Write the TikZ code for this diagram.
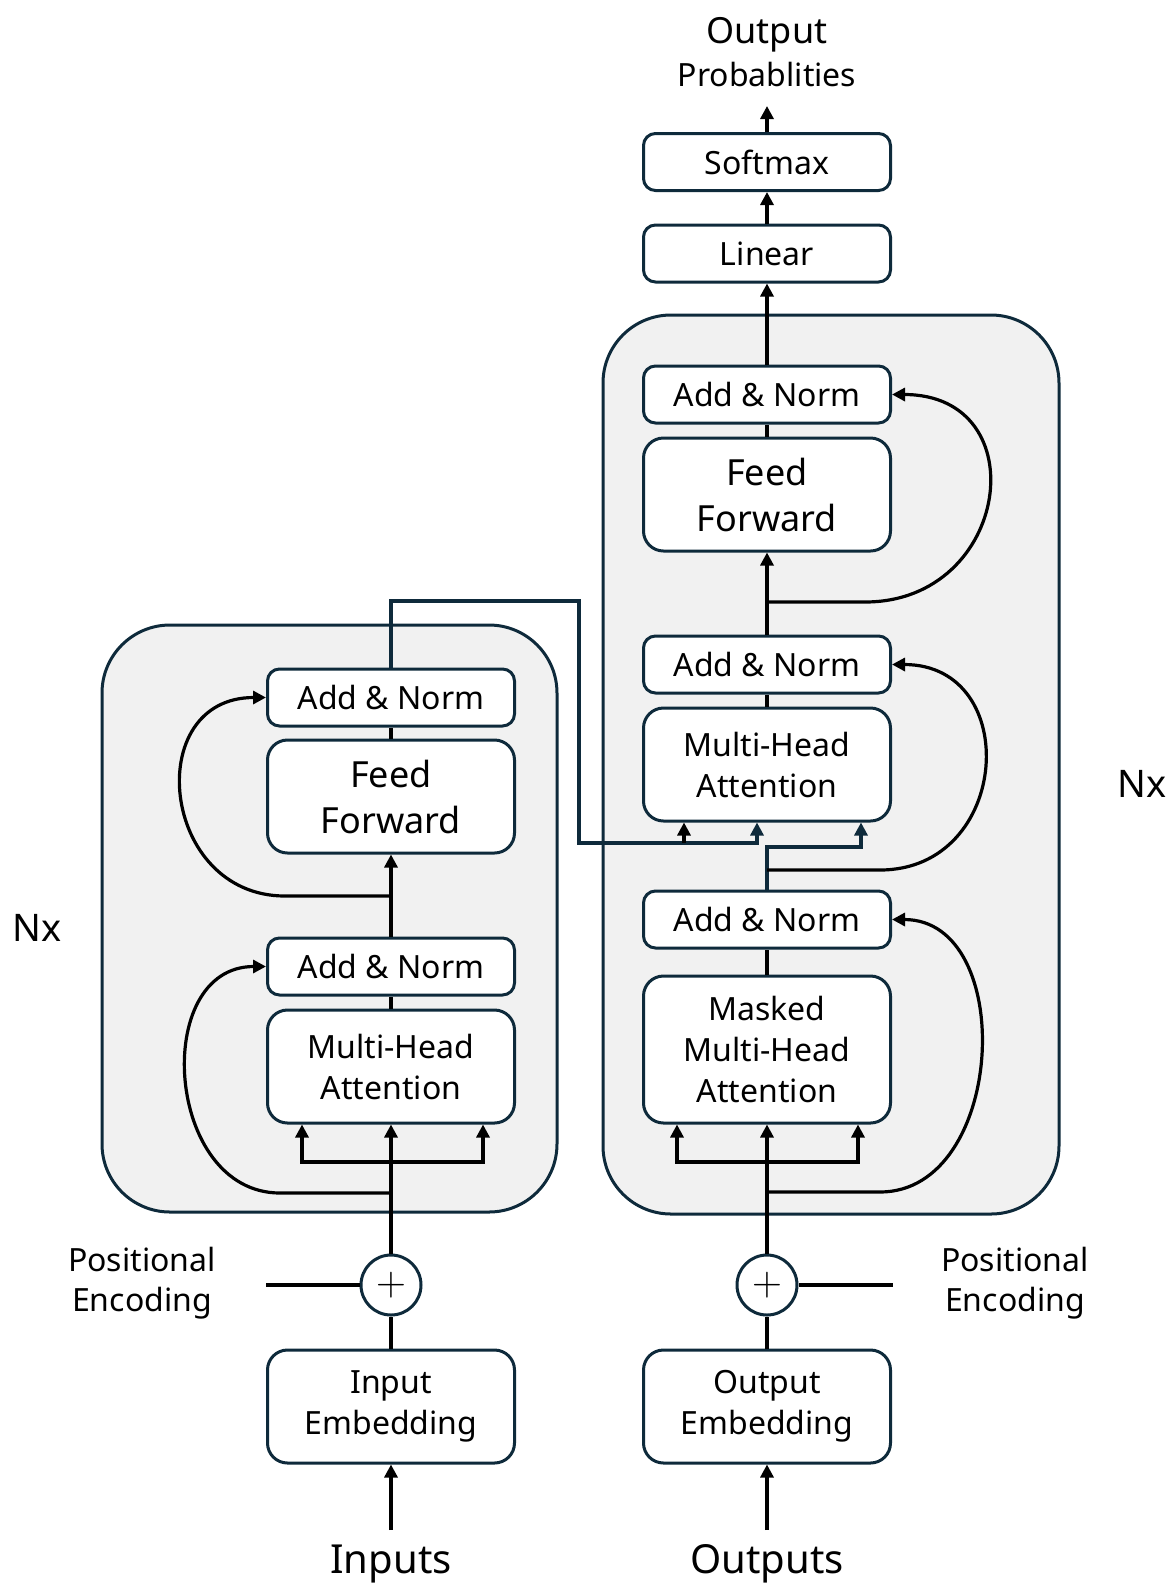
\documentclass[tikz,border=0pt]{standalone}
\usepackage{fontspec}
\setmainfont{Noto Sans}
\usetikzlibrary{arrows.meta,calc}
\definecolor{navy}{HTML}{0E2A3B}
\definecolor{blockgray}{HTML}{F1F1F1}

\begin{document}
\begin{tikzpicture}[x=0.5pt,y=-0.5pt,
  box/.style={draw=navy, line width=1.5pt, fill=white, rounded corners=6pt,
    minimum width=123.5pt, minimum height=28.5pt, inner sep=0pt, align=center,
    font=\fontsize{16}{20.5}\selectfont},
  bigbox/.style={box, rounded corners=10pt, minimum height=56.5pt},
  block/.style={draw=navy, line width=1.5pt, fill=blockgray, rounded corners=34pt},
  sum/.style={circle, draw=navy, line width=1.5pt, fill=white, minimum size=30pt, inner sep=0pt},
  arr/.style={line width=1.6pt, -{Triangle[length=6.5pt,width=6.5pt]}},
  link/.style={line width=1.6pt},
  lbl/.style={font=\fontsize{16}{20}\selectfont, align=center, inner sep=0pt},
  big/.style={font=\fontsize{20}{20}\selectfont, inner sep=0pt},
]
\useasboundingbox (0,0) rectangle (1172,1587);

% the two stacks
\draw[block] (102,625) rectangle (557,1212);
\draw[block] (603,315) rectangle (1059,1214);

% encoder
\node[bigbox] (inEmb) at (391,1406.5) {Input\\Embedding};
\node[sum] (encSum) at (391,1285) {\fontsize{22}{22}\selectfont$+$};
\node[bigbox] (encAttn) at (391,1066.5) {Multi-Head\\Attention};
\node[box] (encNorm1) at (391,966.5) {Add \& Norm};
\node[bigbox, font=\fontsize{18}{23}\selectfont] (encFF) at (391,796.5) {Feed\\Forward};
\node[box] (encNorm2) at (391,697.5) {Add \& Norm};

% decoder
\node[bigbox] (outEmb) at (767,1406.5) {Output\\Embedding};
\node[sum] (decSum) at (767,1285) {\fontsize{22}{22}\selectfont$+$};
\node[box, rounded corners=10pt, minimum height=73.5pt] (decMask) at (767,1049.5) {Masked\\Multi-Head\\Attention};
\node[box] (decNorm1) at (767,919.5) {Add \& Norm};
\node[bigbox] (decAttn) at (767,764.5) {Multi-Head\\Attention};
\node[box] (decNorm2) at (767,664.5) {Add \& Norm};
\node[bigbox, font=\fontsize{18}{23}\selectfont] (decFF) at (767,494.5) {Feed\\Forward};
\node[box] (decNorm3) at (767,394.5) {Add \& Norm};
\node[box] (linear) at (767,253.5) {Linear};
\node[box] (softmax) at (767,162) {Softmax};

% labels
\node[font=\fontsize{18}{18}\selectfont, inner sep=0pt, anchor=base] (outTitle) at (767,43) {Output};
\node[lbl, anchor=base] (outProb) at (767,86) {Probablities};
\node[big, anchor=base] (inputs) at (391,1573) {Inputs};
\node[big, anchor=base] (outputs) at (767,1573) {Outputs};
\node[font=\fontsize{19}{19}\selectfont] (encN) at (37,928) {Nx};
\node[font=\fontsize{19}{19}\selectfont] (decN) at (1142,784) {Nx};
\node[lbl] (encPE) at (142,1283) {Positional\\Encoding};
\node[lbl] (decPE) at (1015,1283) {Positional\\Encoding};

\coordinate (inSrc) at (391,1530);
\coordinate (outSrc) at (767,1530);
\coordinate (encPEend) at (266,1285);
\coordinate (decPEend) at (893,1285);
\coordinate (encSplit) at (391,1162);
\coordinate (encRes1) at (391,1193);
\coordinate (encRes2) at (391,896);
\coordinate (encTop) at (391,601);
\coordinate (crossDn) at (579,843);
\coordinate (decSplit) at (767,1162);
\coordinate (decRes1) at (767,1192);
\coordinate (decUp) at (767,847);
\coordinate (decRes2) at (767,870);
\coordinate (decRes3) at (767,602);
\coordinate (probTip) at (767,106);

% encoder links
\draw[arr] (inSrc) -- (inEmb.south);
\draw[link] (inEmb.north) -- (encSum.south);
\draw[link] (encPEend) -- (encSum.west);
\draw[arr] (encSum.north) -- (encAttn.south);
\draw[arr] (encSplit) -| ($(encAttn.south)+(-89,0)$);
\draw[arr] (encSplit) -| ($(encAttn.south)+(92,0)$);
\draw[arr] (encRes1) -- ++(-111,0) to[out=180,in=180,looseness=1.3] (encNorm1.west);
\draw[link] (encAttn.north) -- (encNorm1.south);
\draw[arr] (encNorm1.north) -- (encFF.south);
\draw[arr] (encRes2) -- ++(-106,0) to[out=180,in=180,looseness=1.6] (encNorm2.west);
\draw[link] (encFF.north) -- (encNorm2.south);

% encoder output into the decoder
\draw[arr, navy] (encNorm2.north) -- (encTop) -| (crossDn) -| ($(decAttn.south)+(-10,0)$);
\draw[arr] ($(crossDn)+(105,0)$) -- ($(decAttn.south)+(-83,0)$);

% decoder links
\draw[arr] (outSrc) -- (outEmb.south);
\draw[link] (outEmb.north) -- (decSum.south);
\draw[link] (decSum.east) -- (decPEend);
\draw[arr] (decSum.north) -- (decMask.south);
\draw[arr] (decSplit) -| ($(decMask.south)+(-90,0)$);
\draw[arr] (decSplit) -| ($(decMask.south)+(91,0)$);
\draw[arr] (decRes1) -- ++(113,0) to[out=0,in=0,looseness=1.18] (decNorm1.east);
\draw[link] (decMask.north) -- (decNorm1.south);
\draw[arr, navy] (decNorm1.north) -- (decUp) -| ($(decAttn.south)+(94,0)$);
\draw[arr] (decRes2) -- ++(113,0) to[out=0,in=0,looseness=1.63] (decNorm2.east);
\draw[link] (decAttn.north) -- (decNorm2.south);
\draw[arr] (decNorm2.north) -- (decFF.south);
\draw[arr] (decRes3) -- ++(98,0) to[out=0,in=0,looseness=1.78] (decNorm3.east);
\draw[link] (decFF.north) -- (decNorm3.south);
\draw[arr] (decNorm3.north) -- (linear.south);
\draw[arr] (linear.north) -- (softmax.south);
\draw[arr] (softmax.north) -- (probTip);
\end{tikzpicture}
\end{document}
